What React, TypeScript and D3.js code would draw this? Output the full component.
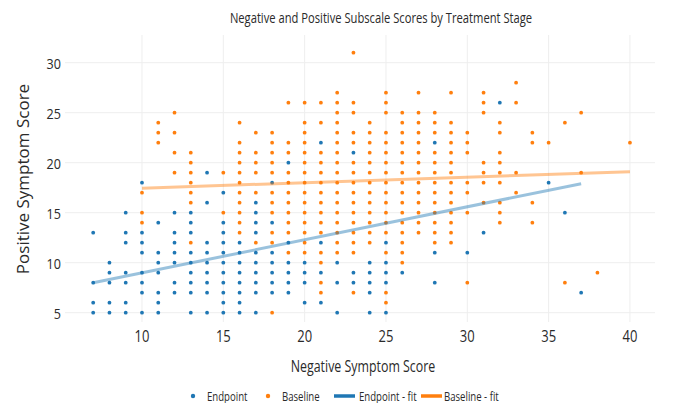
import React from "react";
import * as d3 from "d3";

// ---- data (columns of integer scores: x = negative score, y list = positive scores) ----
const endpointCols: [number, number[]][] = [
  [7, [13, 8, 6, 5]],
  [8, [10, 9, 8, 6, 5]],
  [9, [15, 13, 12, 9, 8, 6, 5]],
  [10, [18, 13, 12, 11, 9, 8, 7, 5]],
  [11, [14, 11, 10, 9, 7, 6, 5]],
  [12, [15, 13, 12, 11, 10, 8, 7]],
  [13, [15, 14, 13, 11, 10, 9, 8, 7, 5]],
  [14, [19, 16, 12, 11, 10, 9, 8, 7, 5]],
  [15, [17, 14, 13, 12, 11, 10, 9, 8, 7, 6, 5]],
  [16, [12, 11, 10, 9, 8, 7, 6, 5]],
  [17, [16, 15, 14, 13, 11, 10, 9, 8, 7, 5]],
  [18, [18, 14, 11, 10, 9, 8, 7]],
  [19, [20, 12, 10, 9, 8, 7]],
  [20, [10, 9, 8, 6]],
  [21, [22, 12, 9, 6]],
  [22, [10, 8, 5]],
  [23, [21, 9, 8]],
  [24, [10, 9, 8, 7, 5]],
  [25, [12, 10, 9, 8, 5]],
  [26, [9]],
  [28, [22, 11, 8]],
  [30, [11]],
  [31, [13]],
  [32, [26]],
  [35, [18]],
  [36, [15]],
  [37, [7]],
];

const baselineCols: [number, number[]][] = [
  [10, [17, 15, 14]],
  [11, [24, 23, 22]],
  [12, [25, 23, 21, 19]],
  [13, [21, 20, 19, 18, 17, 16, 12]],
  [15, [19, 15]],
  [16, [24, 22, 21, 20, 19, 18, 17, 16, 15, 14, 13]],
  [17, [23, 21, 20, 19, 17, 12]],
  [18, [23, 22, 21, 20, 19, 17, 16, 15, 13, 12, 5]],
  [19, [26, 22, 21, 19, 18, 17, 16, 15, 14, 13, 11]],
  [20, [26, 24, 23, 22, 21, 20, 19, 18, 17, 16, 15, 14, 13, 12, 11]],
  [21, [26, 24, 21, 20, 19, 18, 17, 16, 15, 14, 13, 11, 10, 8, 7]],
  [22, [27, 26, 25, 24, 23, 22, 21, 20, 19, 18, 17, 16, 15, 14, 13, 12, 11]],
  [23, [31, 26, 25, 23, 22, 20, 19, 18, 17, 16, 15, 14, 13, 12, 11, 7]],
  [24, [24, 23, 22, 21, 20, 19, 18, 17, 16, 15, 14, 13, 12]],
  [25, [27, 26, 25, 23, 22, 21, 20, 19, 18, 17, 16, 15, 14, 13, 11, 7, 6]],
  [26, [25, 24, 23, 22, 21, 20, 19, 18, 17, 16, 15, 14, 13, 12, 11, 10]],
  [27, [27, 25, 24, 23, 22, 21, 20, 19, 18, 17, 16, 15, 14, 13]],
  [28, [25, 24, 23, 21, 20, 19, 18, 17, 16, 15, 14, 13, 12]],
  [29, [27, 24, 23, 22, 21, 20, 19, 18, 17, 16, 15, 14, 13, 12]],
  [30, [23, 22, 21, 18, 17, 15, 8]],
  [31, [27, 26, 25, 20, 19, 18, 16]],
  [32, [24, 23, 21, 20, 19, 18, 16, 15, 14]],
  [33, [28, 26, 19, 17]],
  [34, [23, 22, 16, 14]],
  [35, [22]],
  [36, [24, 8]],
  [37, [25, 19]],
  [38, [9]],
  [40, [22]],
];

// fitted lines [x, y] endpoints
const endpointFit: [number, number][] = [[7, 8.0], [37, 17.9]];
const baselineFit: [number, number][] = [[10, 17.45], [40, 19.1]];

const xTicks = [10, 15, 20, 25, 30, 35, 40];
const yTicks = [5, 10, 15, 20, 25, 30];

const titleText = "Negative and Positive Subscale Scores by Treatment Stage";
const xTitle = "Negative Symptom Score";
const yTitle = "Positive Symptom Score";
const legendItems = [
  { name: "Endpoint", kind: "dot", color: "#1f77b4" },
  { name: "Baseline", kind: "dot", color: "#ff7f0e" },
  { name: "Endpoint - fit", kind: "line", color: "#1f77b4" },
  { name: "Baseline - fit", kind: "line", color: "#ff7f0e" },
];

const W = 673;
const H = 403;
const plot = { left: 65, right: 655, top: 35, bottom: 322 };
const FONT = "'Open Sans', 'Noto Sans', sans-serif";
const SQ = 0.84;

function flatten(cols: [number, number[]][]) {
  const out: [number, number][] = [];
  cols.forEach(([x, ys]) => ys.forEach((y) => out.push([x, y])));
  return out;
}

function SqText(props: {
  x: number;
  y: number;
  size: number;
  anchor?: string;
  fill?: string;
  children: React.ReactNode;
  sx?: number;
}) {
  const { x, y, size, anchor = "start", fill = "#2a2a2a", children, sx = SQ } = props;
  return (
    <g transform={`translate(${x},${y}) scale(${sx},1)`}>
      <text x={0} y={0} fontSize={size} fontFamily={FONT} textAnchor={anchor} fill={fill}>
        {children}
      </text>
    </g>
  );
}

export default function App() {
  const x = d3.scaleLinear().domain([5.267, 41.54]).range([plot.left, plot.right]);
  const y = d3.scaleLinear().domain([32.77, 4.07]).range([plot.top, plot.bottom]);

  const endPts = flatten(endpointCols);
  const basePts = flatten(baselineCols);
  const line = d3
    .line<[number, number]>()
    .x((d) => x(d[0]))
    .y((d) => y(d[1]));

  const legendX = [193, 268, 334, 421];
  const legendTextX = [207, 282, 359, 444];

  return (
    <svg width={W} height={H} style={{ position: "absolute", left: 0, top: 0, background: "#fff" }}>
      {/* gridlines */}
      {yTicks.map((t) => (
        <line key={"gy" + t} x1={plot.left} x2={plot.right} y1={y(t)} y2={y(t)} stroke="#eeeeee" strokeWidth={1} />
      ))}
      {xTicks.map((t) => (
        <line key={"gx" + t} x1={x(t)} x2={x(t)} y1={plot.top} y2={plot.bottom} stroke="#eeeeee" strokeWidth={1} />
      ))}

      {/* points */}
      {endPts.map((d, i) => (
        <circle key={"e" + i} cx={x(d[0])} cy={y(d[1])} r={1.9} fill="#1f77b4" />
      ))}
      {basePts.map((d, i) => (
        <circle key={"b" + i} cx={x(d[0])} cy={y(d[1])} r={1.9} fill="#ff7f0e" />
      ))}

      {/* fit lines */}
      <path d={line(endpointFit) || ""} stroke="#1f77b4" strokeOpacity={0.45} strokeWidth={3} fill="none" />
      <path d={line(baselineFit) || ""} stroke="#ff7f0e" strokeOpacity={0.45} strokeWidth={3} fill="none" />

      {/* y tick labels */}
      {yTicks.map((t) => (
        <SqText key={"yl" + t} x={61} y={y(t) + 6} size={15} anchor="end">
          {t}
        </SqText>
      ))}
      {/* x tick labels */}
      {xTicks.map((t) => (
        <SqText key={"xl" + t} x={x(t)} y={342} size={15.5} anchor="middle">
          {t}
        </SqText>
      ))}

      {/* titles */}
      <SqText x={381} y={23} size={14} anchor="middle" sx={0.8}>
        {titleText}
      </SqText>
      <SqText x={363} y={372} size={15.5} anchor="middle" sx={0.8}>
        {xTitle}
      </SqText>
      <text
        transform={`translate(29,179) rotate(-90)`}
        fontSize={17}
        fontFamily={FONT}
        textAnchor="middle"
        fill="#2a2a2a"
      >
        {yTitle}
      </text>

      {/* legend */}
      {legendItems.map((it, i) => (
        <g key={"lg" + i}>
          {it.kind === "dot" ? (
            <circle cx={legendX[i]} cy={396} r={2.2} fill={it.color} />
          ) : (
            <line x1={legendX[i]} x2={legendX[i] + 21} y1={396} y2={396} stroke={it.color} strokeWidth={3.5} />
          )}
          <SqText x={legendTextX[i]} y={401} size={12} sx={0.8}>
            {it.name}
          </SqText>
        </g>
      ))}
    </svg>
  );
}
